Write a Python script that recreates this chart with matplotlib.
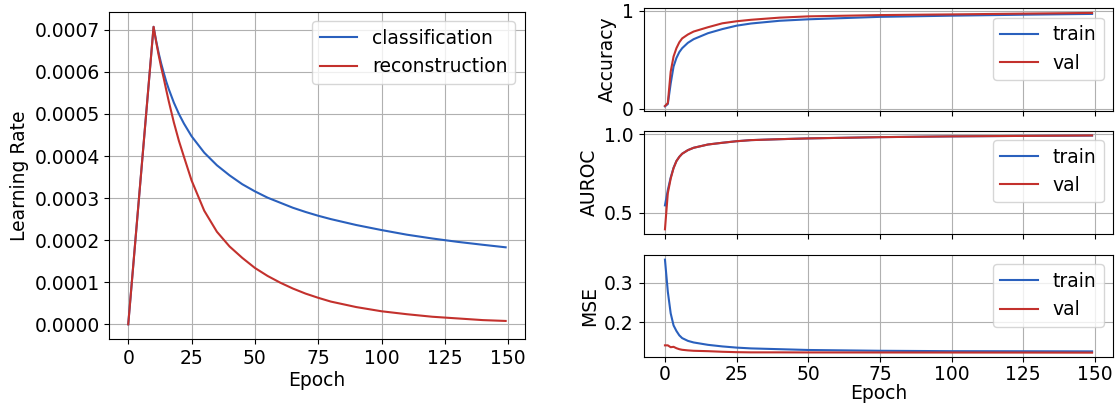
import matplotlib
matplotlib.use("Agg")
import matplotlib.pyplot as plt

# learning rate schedule
lr_epochs = [0, 10, 11, 12, 13, 14, 15, 16, 18, 20, 22, 25, 30, 35, 40, 45,
             50, 55, 60, 65, 70, 75, 80, 90, 100, 110, 120, 125, 130, 140, 149]
lr_classification = [0.0, 0.000707, 0.000674, 0.000645, 0.000620, 0.000598,
                     0.000577, 0.000559, 0.000527, 0.000500, 0.000477,
                     0.000447, 0.000408, 0.000378, 0.000354, 0.000333,
                     0.000316, 0.000301, 0.000289, 0.000277, 0.000267,
                     0.000258, 0.000250, 0.000236, 0.000224, 0.000213,
                     0.000204, 0.000200, 0.000196, 0.000189, 0.000183]
lr_reconstruction = [0.0, 0.000707, 0.000672, 0.000640, 0.000611, 0.000585,
                     0.000557, 0.000530, 0.000480, 0.000436, 0.000398,
                     0.000342, 0.000270, 0.000220, 0.000185, 0.000158,
                     0.000134, 0.000115, 0.000099, 0.000085, 0.000073,
                     0.000063, 0.000054, 0.000041, 0.000031, 0.000024,
                     0.000018, 0.000016, 0.000014, 0.000010, 0.000008]

# training curves (right panels)
ep = [0, 1, 2, 3, 4, 5, 6, 8, 10, 15, 20, 25, 30, 40, 50, 75, 100, 125, 149]
acc_train = [0.027, 0.05, 0.26, 0.433, 0.52, 0.58, 0.62, 0.675, 0.712, 0.773,
             0.815, 0.85, 0.872, 0.9, 0.915, 0.94, 0.952, 0.962, 0.97]
acc_val = [0.03, 0.06, 0.38, 0.535, 0.62, 0.68, 0.72, 0.76, 0.79, 0.834,
           0.874, 0.895, 0.91, 0.932, 0.945, 0.958, 0.965, 0.973, 0.98]
auroc_train = [0.547, 0.645, 0.725, 0.787, 0.83, 0.857, 0.877, 0.9, 0.915,
               0.936, 0.947, 0.957, 0.964, 0.97, 0.975, 0.983, 0.988, 0.991,
               0.993]
auroc_val = [0.394, 0.625, 0.718, 0.785, 0.83, 0.857, 0.877, 0.9, 0.915,
             0.936, 0.947, 0.957, 0.964, 0.97, 0.975, 0.983, 0.988, 0.991,
             0.994]
mse_train = [0.358, 0.277, 0.2225, 0.192, 0.178, 0.167, 0.16, 0.153, 0.149,
             0.143, 0.139, 0.136, 0.134, 0.132, 0.130, 0.128, 0.127, 0.1268,
             0.1265]
mse_val = [0.1417, 0.1417, 0.137, 0.138, 0.1345, 0.132, 0.1305, 0.129, 0.128,
           0.127, 0.1255, 0.1245, 0.124, 0.124, 0.1238, 0.1237, 0.1236,
           0.1235, 0.1233]

BLUE = '#2a60bd'
RED = '#c3312d'
FS = 13.5

plt.rcParams['font.size'] = FS

fig = plt.figure(figsize=(11.16, 4.05), dpi=100)

ax = fig.add_axes([0.098, 0.1625, 0.372, 0.808])
ax.plot(lr_epochs, lr_classification, color=BLUE, label='classification')
ax.plot(lr_epochs, lr_reconstruction, color=RED, label='reconstruction')
ax.set_xlabel('Epoch', fontsize=FS, labelpad=2)
ax.set_ylabel('Learning Rate', fontsize=FS)
ax.set_xticks([0, 25, 50, 75, 100, 125, 150])
ax.set_yticks([0.0, 0.0001, 0.0002, 0.0003, 0.0004, 0.0005, 0.0006, 0.0007])
ax.yaxis.set_major_formatter(matplotlib.ticker.FormatStrFormatter('%.4f'))
ax.tick_params(labelsize=FS)
ax.grid(True)
ax.legend(loc='upper right', fontsize=FS)

x0, w = 0.5767, 0.421
ax1 = fig.add_axes([x0, 0.726, w, 0.2536])
ax2 = fig.add_axes([x0, 0.4222, w, 0.255], sharex=ax1)
ax3 = fig.add_axes([x0, 0.1178, w, 0.2526], sharex=ax1)

ax1.plot(ep, acc_train, color=BLUE, label='train')
ax1.plot(ep, acc_val, color=RED, label='val')
ax1.set_ylabel('Accuracy', fontsize=FS)
ax1.set_yticks([0, 1])

ax2.plot(ep, auroc_train, color=BLUE, label='train')
ax2.plot(ep, auroc_val, color=RED, label='val')
ax2.set_ylabel('AUROC', fontsize=FS)
ax2.set_yticks([0.5, 1.0])

ax3.plot(ep, mse_train, color=BLUE, label='train')
ax3.plot(ep, mse_val, color=RED, label='val')
ax3.set_ylabel('MSE', fontsize=FS)
ax3.set_yticks([0.2, 0.3])
ax3.set_xlabel('Epoch', fontsize=FS, labelpad=0)
ax3.set_xticks([0, 25, 50, 75, 100, 125, 150])
ax3.tick_params(axis='x', pad=2)

for a in (ax1, ax2, ax3):
    a.grid(True)
    a.tick_params(labelsize=FS)
    a.legend(loc='upper right', fontsize=FS)
for a in (ax1, ax2):
    plt.setp(a.get_xticklabels(), visible=False)

fig.savefig('out.png', dpi=100)
plt.close(fig)
